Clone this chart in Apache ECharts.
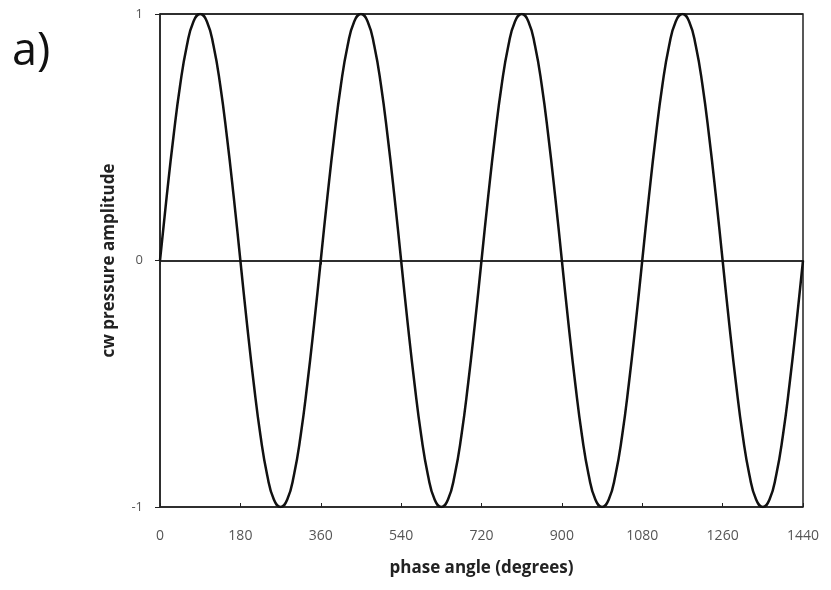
<!DOCTYPE html>
<html>
<head>
<meta charset="utf-8">
<script src="https://cdn.jsdelivr.net/npm/echarts@6/dist/echarts.min.js"></script>
<style>
  html, body { margin: 0; padding: 0; background: #fff; }
  #chart { width: 831px; height: 590px; }
</style>
</head>
<body>
<div id="chart"></div>
<script>
// phase angle in degrees, read every 15 degrees
const angles = [
  0, 15, 30, 45, 60, 75, 90, 105, 120, 135, 150, 165,
  180, 195, 210, 225, 240, 255, 270, 285, 300, 315, 330, 345,
  360, 375, 390, 405, 420, 435, 450, 465, 480, 495, 510, 525,
  540, 555, 570, 585, 600, 615, 630, 645, 660, 675, 690, 705,
  720, 735, 750, 765, 780, 795, 810, 825, 840, 855, 870, 885,
  900, 915, 930, 945, 960, 975, 990, 1005, 1020, 1035, 1050, 1065,
  1080, 1095, 1110, 1125, 1140, 1155, 1170, 1185, 1200, 1215, 1230, 1245,
  1260, 1275, 1290, 1305, 1320, 1335, 1350, 1365, 1380, 1395, 1410, 1425,
  1440
];
const amplitude = [
  0, 0.26, 0.5, 0.71, 0.87, 0.97, 1, 0.97, 0.87, 0.71, 0.5, 0.26,
  0, -0.26, -0.5, -0.71, -0.87, -0.97, -1, -0.97, -0.87, -0.71, -0.5, -0.26,
  0, 0.26, 0.5, 0.71, 0.87, 0.97, 1, 0.97, 0.87, 0.71, 0.5, 0.26,
  0, -0.26, -0.5, -0.71, -0.87, -0.97, -1, -0.97, -0.87, -0.71, -0.5, -0.26,
  0, 0.26, 0.5, 0.71, 0.87, 0.97, 1, 0.97, 0.87, 0.71, 0.5, 0.26,
  0, -0.26, -0.5, -0.71, -0.87, -0.97, -1, -0.97, -0.87, -0.71, -0.5, -0.26,
  0, 0.26, 0.5, 0.71, 0.87, 0.97, 1, 0.97, 0.87, 0.71, 0.5, 0.26,
  0, -0.26, -0.5, -0.71, -0.87, -0.97, -1, -0.97, -0.87, -0.71, -0.5, -0.26,
  0
];
const xTicks = [0, 180, 360, 540, 720, 900, 1080, 1260, 1440];
const yTicks = [-1, 0, 1];

const font = "'Open Sans', 'Liberation Sans', sans-serif";
let myChart = echarts.init(document.getElementById("chart"));
let option = {
  animation: false,
  grid: {
    left: 160,
    right: 28,
    top: 14,
    bottom: 83,
    show: true,
    borderColor: "#222",
    borderWidth: 1.5
  },
  graphic: [
    {
      type: "text",
      left: 12,
      top: 30,
      style: { text: "a)", font: "45px " + font, fill: "#111" }
    }
  ],
  xAxis: [
    {
      type: "value",
      min: xTicks[0],
      max: xTicks[xTicks.length - 1],
      interval: 180,
      name: "phase angle (degrees)",
      nameLocation: "middle",
      nameGap: 53,
      nameTextStyle: { fontFamily: font, fontSize: 17, fontWeight: "bold", color: "#222" },
      axisLine: { lineStyle: { color: "#222", width: 1.5 } },
      axisTick: { length: 4, lineStyle: { color: "#222" } },
      axisLabel: {
        margin: 22,
        fontFamily: font,
        fontSize: 14,
        color: "#555",
        formatter: v => String(v)
      },
      splitLine: { show: false }
    },
    {
      type: "value",
      position: "bottom",
      min: xTicks[0],
      max: xTicks[xTicks.length - 1],
      interval: 180,
      axisLine: { show: false },
      axisTick: { inside: true, length: 4, lineStyle: { color: "#222" } },
      axisLabel: { show: false },
      splitLine: { show: false }
    }
  ],
  yAxis: {
    type: "value",
    min: yTicks[0],
    max: yTicks[yTicks.length - 1],
    interval: 1,
    name: "cw pressure amplitude",
    nameLocation: "middle",
    nameGap: 42,
    nameTextStyle: { fontFamily: font, fontSize: 17, fontWeight: "bold", color: "#222" },
    axisLine: { show: true, lineStyle: { color: "#222", width: 1.5 } },
    axisTick: { show: true, length: 5, lineStyle: { color: "#222" } },
    axisLabel: { margin: 17, fontFamily: font, fontSize: 13, color: "#555" },
    splitLine: { show: true, lineStyle: { color: "#222", width: 1.5 } }
  },
  series: [
    {
      type: "line",
      data: angles.map((a, i) => [a, amplitude[i]]),
      smooth: true,
      showSymbol: false,
      lineStyle: { color: "#111", width: 2.5 }
    }
  ]
};
myChart.setOption(option);
</script>
</body>
</html>
